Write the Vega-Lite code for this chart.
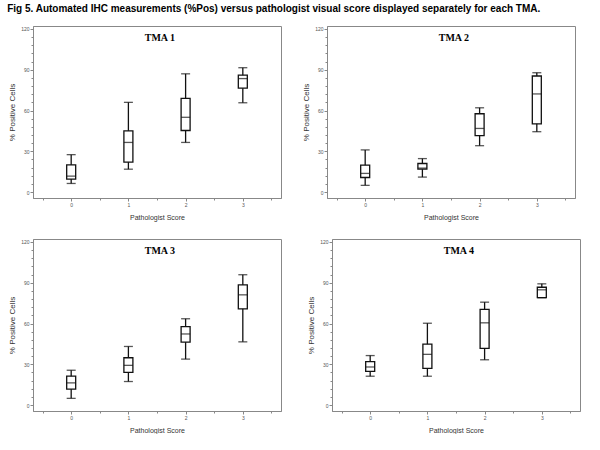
{
  "$schema": "https://vega.github.io/schema/vega-lite/v6.json",
  "padding": {"left": 7, "top": 3, "right": 0, "bottom": 0},
  "background": "white",
  "title": {"text": "Fig 5.  Automated IHC measurements (%Pos) versus pathologist visual score displayed separately for each TMA.", "anchor": "start", "frame": "bounds", "font": "Liberation Sans", "fontSize": 10, "fontWeight": "bold", "color": "black", "offset": 12, "dx": -1},
  "datasets": {
    "boxes": [
      {"tma": "TMA 1", "score": 0, "min": 6.3, "q1": 9.5, "median": 11.7, "q3": 20, "max": 27.5},
      {"tma": "TMA 1", "score": 1, "min": 16.8, "q1": 22, "median": 36.5, "q3": 45, "max": 66},
      {"tma": "TMA 1", "score": 2, "min": 36.5, "q1": 45.3, "median": 55, "q3": 69, "max": 87},
      {"tma": "TMA 1", "score": 3, "min": 65.7, "q1": 76.4, "median": 83.5, "q3": 86, "max": 91.5},
      {"tma": "TMA 2", "score": 0, "min": 4.9, "q1": 10.7, "median": 13.7, "q3": 19.8, "max": 31},
      {"tma": "TMA 2", "score": 1, "min": 11, "q1": 16.8, "median": 17.6, "q3": 21, "max": 24.6},
      {"tma": "TMA 2", "score": 2, "min": 34.1, "q1": 41.5, "median": 46.8, "q3": 57.6, "max": 62},
      {"tma": "TMA 2", "score": 3, "min": 44.4, "q1": 50.2, "median": 72.2, "q3": 85.4, "max": 87.8},
      {"tma": "TMA 3", "score": 0, "min": 4.9, "q1": 11.7, "median": 16.3, "q3": 21.2, "max": 25.6},
      {"tma": "TMA 3", "score": 1, "min": 17.3, "q1": 24.1, "median": 29.2, "q3": 34.8, "max": 43.1},
      {"tma": "TMA 3", "score": 2, "min": 33.8, "q1": 46.3, "median": 52.3, "q3": 57.7, "max": 63.5},
      {"tma": "TMA 3", "score": 3, "min": 46.5, "q1": 70.8, "median": 81.1, "q3": 88.4, "max": 95.9},
      {"tma": "TMA 4", "score": 0, "min": 21.2, "q1": 24.8, "median": 28, "q3": 32, "max": 36.4},
      {"tma": "TMA 4", "score": 1, "min": 21.2, "q1": 27, "median": 37.3, "q3": 44.8, "max": 60.2},
      {"tma": "TMA 4", "score": 2, "min": 33.3, "q1": 41.7, "median": 60.5, "q3": 70.4, "max": 75.7},
      {"tma": "TMA 4", "score": 3, "min": 79, "q1": 79, "median": 84.8, "q3": 86.7, "max": 89.2}
    ]
  },
  "vconcat": [
    {"hconcat": [
      {
        "width": 248, "height": 172,
        "data": {"name": "boxes"},
        "transform": [{"filter": "datum.tma === 'TMA 1'"}],
        "layer": [
          {"mark": {"type": "rule", "color": "#111", "strokeWidth": 1.3},
           "encoding": {
             "x": {"field": "score", "type": "quantitative", "scale": {"domain": [-0.58, 3.58], "nice": false, "zero": false}, "axis": {"orient": "bottom", "tickCount": 100, "values": [-0.5, 0, 0.5, 1, 1.5, 2, 2.5, 3, 3.5], "labelExpr": "datum.value % 1 === 0 ? toString(datum.value) : ''", "tickSize": {"condition": {"test": "datum.value % 1 === 0", "value": 3}, "value": 2}, "title": "Pathologist Score", "titleFontSize": 7, "titlePadding": 6}},
             "y": {"field": "min", "type": "quantitative", "scale": {"domain": [-4.4, 122.2], "nice": false, "zero": false}, "axis": {"orient": "left", "tickCount": 100, "values": [0, 6, 12, 18, 24, 30, 36, 42, 48, 54, 60, 66, 72, 78, 84, 90, 96, 102, 108, 114, 120], "labelExpr": "datum.value % 30 === 0 ? datum.label : ''", "tickSize": {"condition": {"test": "datum.value % 30 === 0", "value": 3}, "value": 2}, "title": "% Positive Cells", "titleFontSize": 8, "titlePadding": 4}},
             "y2": {"field": "max"}}},
          {"mark": {"type": "bar", "orient": "vertical", "size": 9, "fill": "white", "stroke": "#111", "strokeWidth": 1.3},
           "encoding": {
             "x": {"field": "score", "type": "quantitative"},
             "y": {"field": "q1", "type": "quantitative"},
             "y2": {"field": "q3"}}},
          {"mark": {"type": "tick", "orient": "horizontal", "size": 9, "thickness": 1.3, "color": "#111"},
           "encoding": {"x": {"field": "score", "type": "quantitative"}, "y": {"field": "median", "type": "quantitative"}}},
          {"mark": {"type": "tick", "orient": "horizontal", "size": 9, "thickness": 1.3, "color": "#111"},
           "encoding": {"x": {"field": "score", "type": "quantitative"}, "y": {"field": "min", "type": "quantitative"}}},
          {"mark": {"type": "tick", "orient": "horizontal", "size": 9, "thickness": 1.3, "color": "#111"},
           "encoding": {"x": {"field": "score", "type": "quantitative"}, "y": {"field": "max", "type": "quantitative"}}},
          {"transform": [{"filter": "datum.score === 0"}],
           "mark": {"type": "text", "font": "Liberation Serif", "fontSize": 10, "fontWeight": "bold", "color": "black", "baseline": "alphabetic", "align": "center"},
           "encoding": {"x": {"datum": 1.55, "type": "quantitative"}, "y": {"datum": 111, "type": "quantitative"}, "text": {"field": "tma"}}}
        ]
      },
      {
        "width": 248, "height": 172,
        "data": {"name": "boxes"},
        "transform": [{"filter": "datum.tma === 'TMA 2'"}],
        "layer": [
          {"mark": {"type": "rule", "color": "#111", "strokeWidth": 1.3},
           "encoding": {
             "x": {"field": "score", "type": "quantitative", "scale": {"domain": [-0.58, 3.58], "nice": false, "zero": false}, "axis": {"orient": "bottom", "tickCount": 100, "values": [-0.5, 0, 0.5, 1, 1.5, 2, 2.5, 3, 3.5], "labelExpr": "datum.value % 1 === 0 ? toString(datum.value) : ''", "tickSize": {"condition": {"test": "datum.value % 1 === 0", "value": 3}, "value": 2}, "title": "Pathologist Score", "titleFontSize": 7, "titlePadding": 6}},
             "y": {"field": "min", "type": "quantitative", "scale": {"domain": [-4.4, 122.2], "nice": false, "zero": false}, "axis": {"orient": "left", "tickCount": 100, "values": [0, 6, 12, 18, 24, 30, 36, 42, 48, 54, 60, 66, 72, 78, 84, 90, 96, 102, 108, 114, 120], "labelExpr": "datum.value % 30 === 0 ? datum.label : ''", "tickSize": {"condition": {"test": "datum.value % 30 === 0", "value": 3}, "value": 2}, "title": "% Positive Cells", "titleFontSize": 8, "titlePadding": 4}},
             "y2": {"field": "max"}}},
          {"mark": {"type": "bar", "orient": "vertical", "size": 9, "fill": "white", "stroke": "#111", "strokeWidth": 1.3},
           "encoding": {
             "x": {"field": "score", "type": "quantitative"},
             "y": {"field": "q1", "type": "quantitative"},
             "y2": {"field": "q3"}}},
          {"mark": {"type": "tick", "orient": "horizontal", "size": 9, "thickness": 1.3, "color": "#111"},
           "encoding": {"x": {"field": "score", "type": "quantitative"}, "y": {"field": "median", "type": "quantitative"}}},
          {"mark": {"type": "tick", "orient": "horizontal", "size": 9, "thickness": 1.3, "color": "#111"},
           "encoding": {"x": {"field": "score", "type": "quantitative"}, "y": {"field": "min", "type": "quantitative"}}},
          {"mark": {"type": "tick", "orient": "horizontal", "size": 9, "thickness": 1.3, "color": "#111"},
           "encoding": {"x": {"field": "score", "type": "quantitative"}, "y": {"field": "max", "type": "quantitative"}}},
          {"transform": [{"filter": "datum.score === 0"}],
           "mark": {"type": "text", "font": "Liberation Serif", "fontSize": 10, "fontWeight": "bold", "color": "black", "baseline": "alphabetic", "align": "center"},
           "encoding": {"x": {"datum": 1.55, "type": "quantitative"}, "y": {"datum": 111, "type": "quantitative"}, "text": {"field": "tma"}}}
        ]
      }
    ], "spacing": 20},
    {"hconcat": [
      {
        "width": 248, "height": 172,
        "data": {"name": "boxes"},
        "transform": [{"filter": "datum.tma === 'TMA 3'"}],
        "layer": [
          {"mark": {"type": "rule", "color": "#111", "strokeWidth": 1.3},
           "encoding": {
             "x": {"field": "score", "type": "quantitative", "scale": {"domain": [-0.58, 3.58], "nice": false, "zero": false}, "axis": {"orient": "bottom", "tickCount": 100, "values": [-0.5, 0, 0.5, 1, 1.5, 2, 2.5, 3, 3.5], "labelExpr": "datum.value % 1 === 0 ? toString(datum.value) : ''", "tickSize": {"condition": {"test": "datum.value % 1 === 0", "value": 3}, "value": 2}, "title": "Pathologist Score", "titleFontSize": 7, "titlePadding": 6}},
             "y": {"field": "min", "type": "quantitative", "scale": {"domain": [-4.4, 122.2], "nice": false, "zero": false}, "axis": {"orient": "left", "tickCount": 100, "values": [0, 6, 12, 18, 24, 30, 36, 42, 48, 54, 60, 66, 72, 78, 84, 90, 96, 102, 108, 114, 120], "labelExpr": "datum.value % 30 === 0 ? datum.label : ''", "tickSize": {"condition": {"test": "datum.value % 30 === 0", "value": 3}, "value": 2}, "title": "% Positive Cells", "titleFontSize": 8, "titlePadding": 4}},
             "y2": {"field": "max"}}},
          {"mark": {"type": "bar", "orient": "vertical", "size": 9, "fill": "white", "stroke": "#111", "strokeWidth": 1.3},
           "encoding": {
             "x": {"field": "score", "type": "quantitative"},
             "y": {"field": "q1", "type": "quantitative"},
             "y2": {"field": "q3"}}},
          {"mark": {"type": "tick", "orient": "horizontal", "size": 9, "thickness": 1.3, "color": "#111"},
           "encoding": {"x": {"field": "score", "type": "quantitative"}, "y": {"field": "median", "type": "quantitative"}}},
          {"mark": {"type": "tick", "orient": "horizontal", "size": 9, "thickness": 1.3, "color": "#111"},
           "encoding": {"x": {"field": "score", "type": "quantitative"}, "y": {"field": "min", "type": "quantitative"}}},
          {"mark": {"type": "tick", "orient": "horizontal", "size": 9, "thickness": 1.3, "color": "#111"},
           "encoding": {"x": {"field": "score", "type": "quantitative"}, "y": {"field": "max", "type": "quantitative"}}},
          {"transform": [{"filter": "datum.score === 0"}],
           "mark": {"type": "text", "font": "Liberation Serif", "fontSize": 10, "fontWeight": "bold", "color": "black", "baseline": "alphabetic", "align": "center"},
           "encoding": {"x": {"datum": 1.55, "type": "quantitative"}, "y": {"datum": 111, "type": "quantitative"}, "text": {"field": "tma"}}}
        ]
      },
      {
        "width": 248, "height": 172,
        "data": {"name": "boxes"},
        "transform": [{"filter": "datum.tma === 'TMA 4'"}],
        "layer": [
          {"mark": {"type": "rule", "color": "#111", "strokeWidth": 1.3},
           "encoding": {
             "x": {"field": "score", "type": "quantitative", "scale": {"domain": [-0.58, 3.58], "nice": false, "zero": false}, "axis": {"orient": "bottom", "tickCount": 100, "values": [-0.5, 0, 0.5, 1, 1.5, 2, 2.5, 3, 3.5], "labelExpr": "datum.value % 1 === 0 ? toString(datum.value) : ''", "tickSize": {"condition": {"test": "datum.value % 1 === 0", "value": 3}, "value": 2}, "title": "Pathologist Score", "titleFontSize": 7, "titlePadding": 6}},
             "y": {"field": "min", "type": "quantitative", "scale": {"domain": [-4.4, 122.2], "nice": false, "zero": false}, "axis": {"orient": "left", "tickCount": 100, "values": [0, 6, 12, 18, 24, 30, 36, 42, 48, 54, 60, 66, 72, 78, 84, 90, 96, 102, 108, 114, 120], "labelExpr": "datum.value % 30 === 0 ? datum.label : ''", "tickSize": {"condition": {"test": "datum.value % 30 === 0", "value": 3}, "value": 2}, "title": "% Positive Cells", "titleFontSize": 8, "titlePadding": 4}},
             "y2": {"field": "max"}}},
          {"mark": {"type": "bar", "orient": "vertical", "size": 9, "fill": "white", "stroke": "#111", "strokeWidth": 1.3},
           "encoding": {
             "x": {"field": "score", "type": "quantitative"},
             "y": {"field": "q1", "type": "quantitative"},
             "y2": {"field": "q3"}}},
          {"mark": {"type": "tick", "orient": "horizontal", "size": 9, "thickness": 1.3, "color": "#111"},
           "encoding": {"x": {"field": "score", "type": "quantitative"}, "y": {"field": "median", "type": "quantitative"}}},
          {"mark": {"type": "tick", "orient": "horizontal", "size": 9, "thickness": 1.3, "color": "#111"},
           "encoding": {"x": {"field": "score", "type": "quantitative"}, "y": {"field": "min", "type": "quantitative"}}},
          {"mark": {"type": "tick", "orient": "horizontal", "size": 9, "thickness": 1.3, "color": "#111"},
           "encoding": {"x": {"field": "score", "type": "quantitative"}, "y": {"field": "max", "type": "quantitative"}}},
          {"transform": [{"filter": "datum.score === 0"}],
           "mark": {"type": "text", "font": "Liberation Serif", "fontSize": 10, "fontWeight": "bold", "color": "black", "baseline": "alphabetic", "align": "center"},
           "encoding": {"x": {"datum": 1.55, "type": "quantitative"}, "y": {"datum": 111, "type": "quantitative"}, "text": {"field": "tma"}}}
        ]
      }
    ], "spacing": 25}
  ],
  "spacing": 17,
  "config": {
    "view": {"stroke": "#888", "strokeWidth": 1},
    "axis": {"grid": false, "labelOverlap": false, "domainColor": "#888", "tickColor": "#888", "labelFont": "Liberation Sans", "labelFontSize": 5, "labelColor": "#555", "labelPadding": 1, "titleFont": "Liberation Sans", "titleFontWeight": "normal", "titleColor": "#333"}
  }
}
